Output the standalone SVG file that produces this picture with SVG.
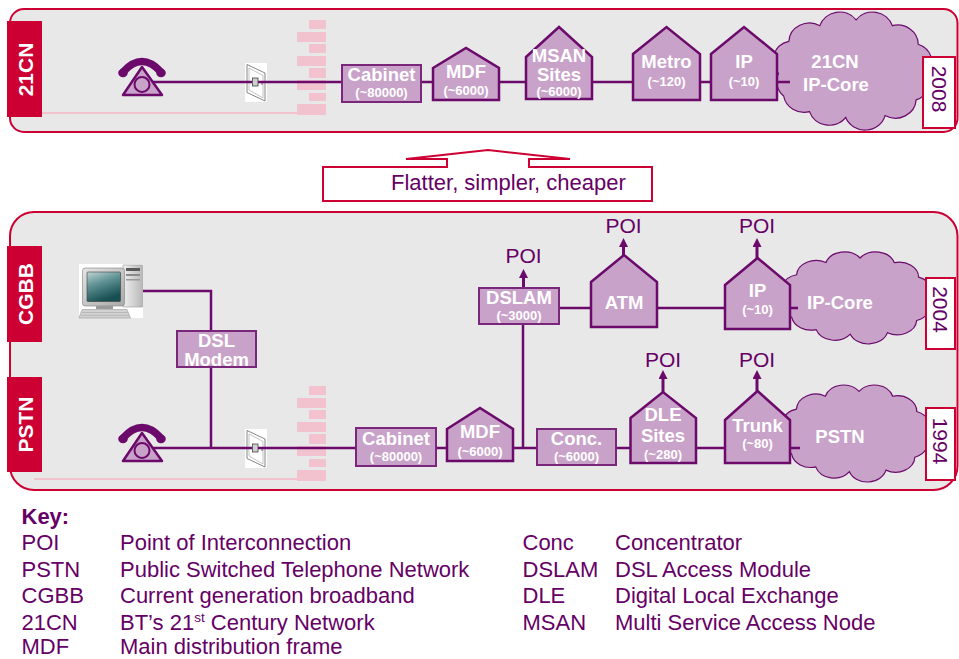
<svg xmlns="http://www.w3.org/2000/svg" width="959" height="659" viewBox="0 0 959 659">
<style>
  text { font-family: "Liberation Sans", Arial, sans-serif; }
  .panel { fill: #e8e8e8; stroke: #cc0033; stroke-width: 2; }
  .tag { fill: #cc0033; }
  .tagtxt { fill: #ffffff; font-size: 21px; font-weight: bold; text-anchor: middle; dominant-baseline: central; }
  .pink { fill: #f2c3cf; }
  .pinkline { stroke: #f2c3cf; stroke-width: 2; }
  .wire { fill: none; stroke: #6b0a6b; stroke-width: 2.5; }
  .poi { fill: none; stroke: #6b0a6b; stroke-width: 3; marker-end: url(#head); }
  .box { fill: #c9a2c9; stroke: #7a267a; stroke-width: 2; }
  .house { fill: #c9a2c9; stroke: #6b0a6b; stroke-width: 2.5; }
  .cloud { fill: #c9a2c9; stroke: #6b0a6b; stroke-width: 1.2; }
  .lbl { fill: #ffffff; font-size: 18.5px; font-weight: bold; text-anchor: middle; }
  .sub { fill: #ffffff; font-size: 13px; font-weight: bold; text-anchor: middle; }
  .ptxt { fill: #660066; font-size: 21px; text-anchor: middle; }
  .year { fill: #ffffff; stroke: #cc0033; stroke-width: 2; }
  .ytxt { fill: #660066; font-size: 21px; text-anchor: middle; dominant-baseline: central; }
  .key { fill: #660066; font-size: 22px; }
  .flat { fill: #ffffff; stroke: #cc0033; stroke-width: 2; }
</style>
<defs>
  <marker id="head" markerUnits="userSpaceOnUse" markerWidth="10" markerHeight="10" refX="1" refY="4.5" orient="auto">
    <path d="M0,0 L9,4.5 L0,9 Z" fill="#6b0a6b"/>
  </marker>
  <path id="cloudShape" vector-effect="non-scaling-stroke" d="M5,55 A20,20 0 0 1 15,22 A20,20 0 0 1 45,6 A20,20 0 0 1 80,0 A20,20 0 0 1 115,6 A20,20 0 0 1 140,25 A20,20 0 0 1 150,55 A20,20 0 0 1 138,82 A20,20 0 0 1 108,98 A20,20 0 0 1 70,100 A20,20 0 0 1 35,94 A20,20 0 0 1 10,78 A20,20 0 0 1 5,55 Z"/>
  <!-- telephone icon, local origin at its top-left -->
  <g id="phone">
    <path d="M24,9 L5,37 L44,37 Z" fill="#c9a2c9" stroke="#6b0a6b" stroke-width="2.5" stroke-linejoin="round"/>
    <circle cx="24" cy="26.5" r="7.5" fill="#c9a2c9" stroke="#6b0a6b" stroke-width="2"/>
    <path d="M5,14 Q24,-7 43,14" fill="none" stroke="#6b0a6b" stroke-width="7.5" stroke-linecap="round"/>
    <ellipse cx="5" cy="15" rx="4.8" ry="4.2" fill="#6b0a6b"/>
    <ellipse cx="43" cy="15" rx="4.8" ry="4.2" fill="#6b0a6b"/>
  </g>
  <!-- wall socket, local origin at its top-left -->
  <g id="socket">
    <rect x="0" y="0" width="22" height="39" fill="#ffffff"/>
    <polygon points="2,1.5 20,10 20,38 2,29.5" fill="#ffffff" stroke="#777" stroke-width="0.9"/>
    <polygon points="4,5 18,12.5 18,35 4,27" fill="none" stroke="#aaa" stroke-width="0.7"/>
    <rect x="7.5" y="15" width="5.5" height="8" fill="#cfcfcf" stroke="#444" stroke-width="0.8"/>
    <circle cx="3.5" cy="19" r="0.8" fill="#555"/>
    <circle cx="17" cy="21" r="0.8" fill="#555"/>
  </g>
  <!-- pink frame ladder beside the line -->
  <g id="bars">
    <line class="pinkline" x1="34" y1="113" x2="300" y2="113"/>
    <rect class="pink" x="309" y="20" width="17" height="9"/>
    <rect class="pink" x="297" y="32" width="29" height="10"/>
    <rect class="pink" x="309" y="44" width="17" height="9"/>
    <rect class="pink" x="297" y="56" width="29" height="10"/>
    <rect class="pink" x="309" y="68" width="17" height="10"/>
    <rect class="pink" x="297" y="80" width="29" height="10"/>
    <rect class="pink" x="309" y="93" width="17" height="8"/>
    <rect class="pink" x="297" y="104" width="29" height="11"/>
  </g>
  <linearGradient id="screen" x1="0" y1="0" x2="0.4" y2="1">
    <stop offset="0" stop-color="#c2d4d4"/>
    <stop offset="0.45" stop-color="#5f9294"/>
    <stop offset="1" stop-color="#174f52"/>
  </linearGradient>
  <linearGradient id="bezel" x1="0" y1="0" x2="1" y2="1">
    <stop offset="0" stop-color="#e4e4e4"/>
    <stop offset="1" stop-color="#a9a9a9"/>
  </linearGradient>
  <linearGradient id="tower" x1="0" y1="0" x2="1" y2="0">
    <stop offset="0" stop-color="#f0f0f0"/>
    <stop offset="1" stop-color="#b8b8b8"/>
  </linearGradient>
</defs>

<!-- panels -->
<rect class="panel" x="10" y="9" width="947.5" height="123" rx="14"/>
<rect class="panel" x="10" y="212" width="947.5" height="278" rx="24"/>

<!-- pink frames -->
<use href="#bars"/>
<use href="#bars" transform="translate(0,366)"/>

<!-- clouds -->
<g id="cloud-21cn-core">
  <use href="#cloudShape" class="cloud" transform="translate(773.3,19.8) scale(1.035,0.977)"/>
  <text class="lbl" x="835" y="68" font-size="19px">21CN</text>
  <text class="lbl" x="836" y="91" font-size="19px">IP-Core</text>
</g>
<g id="cloud-ip-core">
  <use href="#cloudShape" class="cloud" transform="translate(782,258) scale(0.976,0.762)"/>
  <text class="lbl" x="840" y="309" font-size="19px">IP-Core</text>
</g>
<g id="cloud-pstn">
  <use href="#cloudShape" class="cloud" transform="translate(782,391.4) scale(0.963,0.803)"/>
  <text class="lbl" x="840" y="443" font-size="19px">PSTN</text>
</g>

<!-- sockets -->
<g id="socket-21cn"><use href="#socket" transform="translate(245,63)"/></g>
<g id="socket-pstn"><use href="#socket" transform="translate(245,429)"/></g>

<!-- connectors -->
<g id="connectors">
  <path class="wire" d="M143,82 H252 M258,82 H342 M421,82 H433 M499,82 H526 M592,82 H633 M700,82 H711 M777,82 H790"/>
  <path class="wire" d="M143,448 H252 M258,448 H356 M436,448 H447 M513,448 H537 M616,448 H631 M696,448 H725 M790,448 H800"/>
  <path class="wire" d="M143,291 H211 V331 M211,367 V448"/>
  <path class="wire" d="M523,324 V448"/>
  <path class="wire" d="M559,308 H591 M657,308 H725 M790,308 H798"/>
  <path class="poi" d="M523.5,288 V277"/>
  <path class="poi" d="M623.5,255 V246"/>
  <path class="poi" d="M757,258 V246"/>
  <path class="poi" d="M663,392 V378"/>
  <path class="poi" d="M757,391 V378"/>
</g>

<!-- side tags -->
<g id="tag-21cn">
  <rect class="tag" x="7" y="21" width="35" height="96"/>
  <text class="tagtxt" transform="translate(25,69.5) rotate(-90)">21CN</text>
</g>
<g id="tag-cgbb">
  <rect class="tag" x="7" y="246" width="35" height="96"/>
  <text class="tagtxt" transform="translate(25,294) rotate(-90)">CGBB</text>
</g>
<g id="tag-pstn">
  <rect class="tag" x="7" y="377" width="35" height="95"/>
  <text class="tagtxt" transform="translate(25,424.5) rotate(-90)">PSTN</text>
</g>

<!-- 21CN row -->
<g id="phone-21cn"><use href="#phone" transform="translate(118,58)"/></g>
<g id="cabinet-21cn">
  <rect class="box" x="342" y="65" width="79" height="37"/>
  <text class="lbl" x="381.5" y="81">Cabinet</text>
  <text class="sub" x="381.5" y="97">(~80000)</text>
</g>
<g id="mdf-21cn">
  <polygon class="house" points="433,68 466,48 499,68 499,100 433,100"/>
  <text class="lbl" x="466" y="78">MDF</text>
  <text class="sub" x="466" y="95">(~6000)</text>
</g>
<g id="msan-21cn">
  <polygon class="house" points="526,57 559,27 592,57 592,99 526,99"/>
  <text class="lbl" x="559" y="62" font-size="17.5px">MSAN</text>
  <text class="lbl" x="559" y="81" font-size="17.5px">Sites</text>
  <text class="sub" x="559" y="95.5">(~6000)</text>
</g>
<g id="metro-21cn">
  <polygon class="house" points="633,54 666.5,27 700,54 700,100 633,100"/>
  <text class="lbl" x="666.5" y="68">Metro</text>
  <text class="sub" x="666.5" y="85.5">(~120)</text>
</g>
<g id="ip-21cn">
  <polygon class="house" points="711,54 744,27 777,54 777,100 711,100"/>
  <text class="lbl" x="744" y="68">IP</text>
  <text class="sub" x="744" y="85.5">(~10)</text>
</g>

<!-- transition arrow -->
<g id="flatter">
  <polygon class="flat" points="323,167 447,167 447,159 406,159 488,150 570,159 529,159 529,167 652,167 652,201 323,201"/>
  <text x="391" y="190" fill="#660066" font-size="22px">Flatter, simpler, cheaper</text>
</g>

<!-- CGBB row -->
<g id="pc-cgbb">
  <rect x="79" y="264" width="64" height="54" fill="#ffffff"/>
  <rect x="123" y="265" width="19.5" height="42" fill="url(#tower)" stroke="#9a9a9a" stroke-width="0.6"/>
  <rect x="126" y="268" width="14" height="3" fill="#5a5a5a"/>
  <rect x="126" y="274" width="14" height="2" fill="#8a8a8a"/>
  <rect x="126" y="279" width="14" height="1.5" fill="#9a9a9a"/>
  <rect x="82.5" y="268" width="42" height="38" rx="2.5" fill="url(#bezel)" stroke="#808080" stroke-width="0.6"/>
  <rect x="87" y="272" width="33.5" height="29.5" rx="1" fill="url(#screen)" stroke="#3c3c3c" stroke-width="0.6"/>
  <rect x="96" y="306" width="17" height="3" fill="#9a9a9a"/>
  <polygon points="82,309.5 127,309.5 130.5,318 79,318" fill="#d2d2d2" stroke="#8a8a8a" stroke-width="0.5"/>
  <path d="M82,312.5 H128 M81,315.3 H129.5" stroke="#a8a8a8" stroke-width="0.6"/>
</g>
<g id="dsl-modem">
  <rect class="box" x="177" y="331" width="79" height="36"/>
  <text class="lbl" x="216.5" y="347" font-size="15px">DSL</text>
  <text class="lbl" x="216.5" y="366" font-size="15.5px">Modem</text>
</g>
<g id="dslam">
  <rect class="box" x="479" y="288" width="80" height="36"/>
  <text class="lbl" x="519" y="304">DSLAM</text>
  <text class="sub" x="519" y="320">(~3000)</text>
  <text class="ptxt" x="523.5" y="263">POI</text>
</g>
<g id="atm">
  <polygon class="house" points="591,282 624,255 657,282 657,327 591,327"/>
  <text class="lbl" x="624" y="309">ATM</text>
  <text class="ptxt" x="623.5" y="233">POI</text>
</g>
<g id="ip-cgbb">
  <polygon class="house" points="725,285 757.5,258 790,285 790,329 725,329"/>
  <text class="lbl" x="757.5" y="297">IP</text>
  <text class="sub" x="757.5" y="314">(~10)</text>
  <text class="ptxt" x="757" y="233">POI</text>
</g>

<!-- PSTN row -->
<g id="phone-pstn"><use href="#phone" transform="translate(118,424)"/></g>
<g id="cabinet-pstn">
  <rect class="box" x="356" y="428" width="80" height="38"/>
  <text class="lbl" x="396" y="445">Cabinet</text>
  <text class="sub" x="396" y="461">(~80000)</text>
</g>
<g id="mdf-pstn">
  <polygon class="house" points="447,429 480,408 513,429 513,461 447,461"/>
  <text class="lbl" x="480" y="438">MDF</text>
  <text class="sub" x="480" y="455.5">(~6000)</text>
</g>
<g id="conc">
  <rect class="box" x="537" y="429" width="79" height="36"/>
  <text class="lbl" x="576.5" y="445">Conc.</text>
  <text class="sub" x="576.5" y="461">(~6000)</text>
</g>
<g id="dle-sites">
  <polygon class="house" points="630.5,418 663,392 696,418 696,463 630.5,463"/>
  <text class="lbl" x="663" y="421">DLE</text>
  <text class="lbl" x="663" y="441.5">Sites</text>
  <text class="sub" x="663" y="458.5">(~280)</text>
  <text class="ptxt" x="663" y="367">POI</text>
</g>
<g id="trunk">
  <polygon class="house" points="725,420 757.5,391 790,420 790,463 725,463"/>
  <text class="lbl" x="757.5" y="432">Trunk</text>
  <text class="sub" x="757.5" y="447.5">(~80)</text>
  <text class="ptxt" x="757" y="367">POI</text>
</g>

<!-- year markers -->
<g id="year-2008">
  <rect class="year" x="923" y="57" width="32" height="71"/>
  <text class="ytxt" transform="translate(939,89) rotate(90)">2008</text>
</g>
<g id="year-2004">
  <rect class="year" x="926" y="278" width="29" height="71"/>
  <text class="ytxt" transform="translate(940.5,309.5) rotate(90)">2004</text>
</g>
<g id="year-1994">
  <rect class="year" x="926" y="408" width="29" height="72"/>
  <text class="ytxt" transform="translate(940.5,441) rotate(90)">1994</text>
</g>

<!-- key -->
<g id="key">
  <text class="key" x="21.5" y="524" font-weight="bold" font-size="21px">Key:</text>
  <text class="key" x="21.5" y="550">POI</text>
  <text class="key" x="120" y="550">Point of Interconnection</text>
  <text class="key" x="21.5" y="577">PSTN</text>
  <text class="key" x="120" y="577">Public Switched Telephone Network</text>
  <text class="key" x="21.5" y="603">CGBB</text>
  <text class="key" x="120" y="603">Current generation broadband</text>
  <text class="key" x="21.5" y="630">21CN</text>
  <text class="key" x="120" y="630">BT’s 21<tspan font-size="13.5px" dy="-8">st</tspan><tspan dy="8"> Century Network</tspan></text>
  <text class="key" x="21.5" y="654">MDF</text>
  <text class="key" x="120" y="654">Main distribution frame</text>
  <text class="key" x="522.5" y="550">Conc</text>
  <text class="key" x="615" y="550">Concentrator</text>
  <text class="key" x="522.5" y="577">DSLAM</text>
  <text class="key" x="615" y="577">DSL Access Module</text>
  <text class="key" x="522.5" y="603">DLE</text>
  <text class="key" x="615" y="603">Digital Local Exchange</text>
  <text class="key" x="522.5" y="630">MSAN</text>
  <text class="key" x="615" y="630">Multi Service Access Node</text>
</g>
</svg>
